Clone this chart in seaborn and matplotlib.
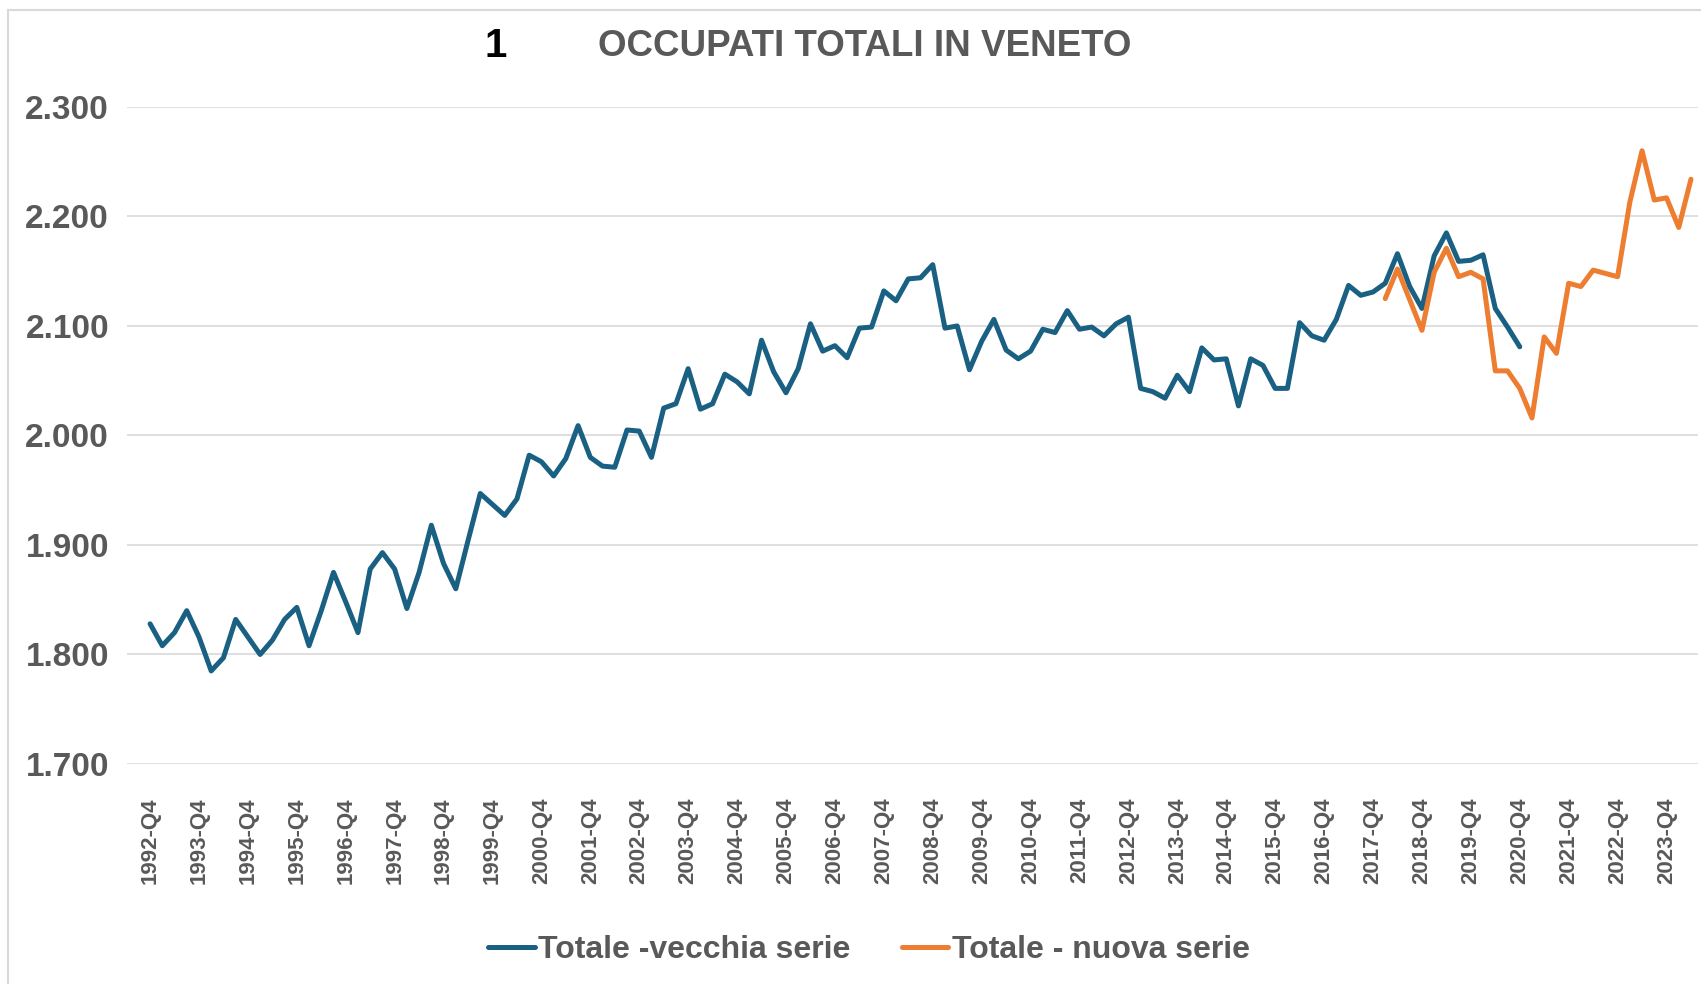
import numpy as np
import pandas as pd
import seaborn as sns
import matplotlib.pyplot as plt
from matplotlib import font_manager
from matplotlib.lines import Line2D

sns.set_theme(style="white")

# quarters from 1992-Q4 to 2024-Q2
QUARTERS = ["1992-Q4"] + ["{}-Q{}".format(y, q) for y in range(1993, 2025) for q in range(1, 5)]
QUARTERS = QUARTERS[:127]

# employed people in Veneto, thousands
OLD_SERIES = [
    1828, 1808, 1820, 1840, 1816, 1785, 1797, 1832, 1816, 1800,
    1813, 1832, 1843, 1808, 1840, 1875, 1848, 1820, 1878, 1893,
    1878, 1842, 1875, 1918, 1883, 1860, 1904, 1947, 1937, 1927,
    1942, 1982, 1976, 1963, 1979, 2009, 1980, 1972, 1971, 2005,
    2004, 1980, 2025, 2029, 2061, 2024, 2029, 2056, 2049, 2038,
    2087, 2058, 2039, 2061, 2102, 2077, 2082, 2071, 2098, 2099,
    2132, 2123, 2143, 2144, 2156, 2098, 2100, 2060, 2086, 2106,
    2078, 2070, 2077, 2097, 2094, 2114, 2097, 2099, 2091, 2102,
    2108, 2043, 2040, 2034, 2055, 2040, 2080, 2069, 2070, 2027,
    2070, 2064, 2043, 2043, 2103, 2091, 2087, 2106, 2137, 2128,
    2131, 2139, 2166, 2136, 2116, 2164, 2185, 2159, 2160, 2165,
    2116, 2099, 2081,
]
NEW_START = "2018-Q1"
NEW_SERIES = [
    2125, 2152, 2124, 2096, 2149, 2171, 2145, 2149, 2143, 2059,
    2059, 2043, 2016, 2090, 2075, 2139, 2136, 2151, 2148, 2145,
    2213, 2260, 2215, 2217, 2190, 2234,
]
TICK_LABELS = [q for q in QUARTERS if q.endswith("Q4")]
Y_TICKS = [1700, 1800, 1900, 2000, 2100, 2200, 2300]

BLUE = "#196083"
ORANGE = "#ED7D31"
GREY = "#595959"

names = {f.name for f in font_manager.fontManager.ttflist}
HAS_NARROW = "Liberation Sans Narrow" in names
NARROW = "Liberation Sans Narrow" if HAS_NARROW else "Liberation Sans"
plt.rcParams["font.family"] = ["Liberation Sans", "DejaVu Sans"]

pos = {q: i for i, q in enumerate(QUARTERS)}
old_df = pd.DataFrame({"x": np.arange(len(OLD_SERIES)), "val": OLD_SERIES})
new_df = pd.DataFrame({"x": pos[NEW_START] + np.arange(len(NEW_SERIES)), "val": NEW_SERIES})

fig = plt.figure(figsize=(17.01, 9.84), dpi=100)
ax = fig.add_axes([0.0747, 0.2236, 0.9235, 0.6677])

sns.lineplot(data=old_df, x="x", y="val", ax=ax, color=BLUE, lw=3.6,
             label="Totale -vecchia serie", legend=False)
sns.lineplot(data=new_df, x="x", y="val", ax=ax, color=ORANGE, lw=3.6,
             label="Totale - nuova serie", legend=False)

ax.set_xlim(-1.88, len(QUARTERS) - 1 + 0.57)
ax.set_ylim(1700, 2300)
ax.set_yticks(Y_TICKS)
ax.set_yticklabels(["{:,}".format(v).replace(",", ".") for v in Y_TICKS],
                   fontsize=24, fontweight="bold", color=GREY)
ax.set_xticks([pos[q] for q in TICK_LABELS])
ax.set_xticklabels(TICK_LABELS, rotation=90, fontsize=19 if HAS_NARROW else 16,
                   fontweight="bold", color=GREY, family=NARROW)
ax.tick_params(axis="y", length=0, pad=13)
ax.tick_params(axis="x", length=0, pad=24)
ax.set_xlabel("")
ax.set_ylabel("")
ax.grid(axis="y", color="#D9D9D9", lw=1.2)
ax.grid(axis="x", visible=False)
for s in ax.spines.values():
    s.set_visible(False)

fig.text(0.2916, 0.953, "1", ha="center", va="center", fontsize=29,
         fontweight="bold", color="black", family=NARROW)
fig.text(0.5085, 0.953, "OCCUPATI TOTALI IN VENETO", ha="center", va="center",
         fontsize=31 if HAS_NARROW else 26.5, fontweight="bold", color=GREY,
         family=NARROW)

leg = fig.legend(loc="center", bbox_to_anchor=(0.511, 0.0346), ncol=2, frameon=False,
                 prop={"size": 23, "weight": "bold"}, handlelength=1.45,
                 handletextpad=0.12, columnspacing=1.6)
for t in leg.get_texts():
    t.set_color(GREY)

# thin frame around the chart
fig.add_artist(Line2D([8 / 1701, 1], [1 - 10 / 984] * 2, color="#D9D9D9", lw=1.5))
fig.add_artist(Line2D([8 / 1701] * 2, [0, 1 - 10 / 984], color="#D9D9D9", lw=1.5))

fig.savefig("out.png", dpi=100)
